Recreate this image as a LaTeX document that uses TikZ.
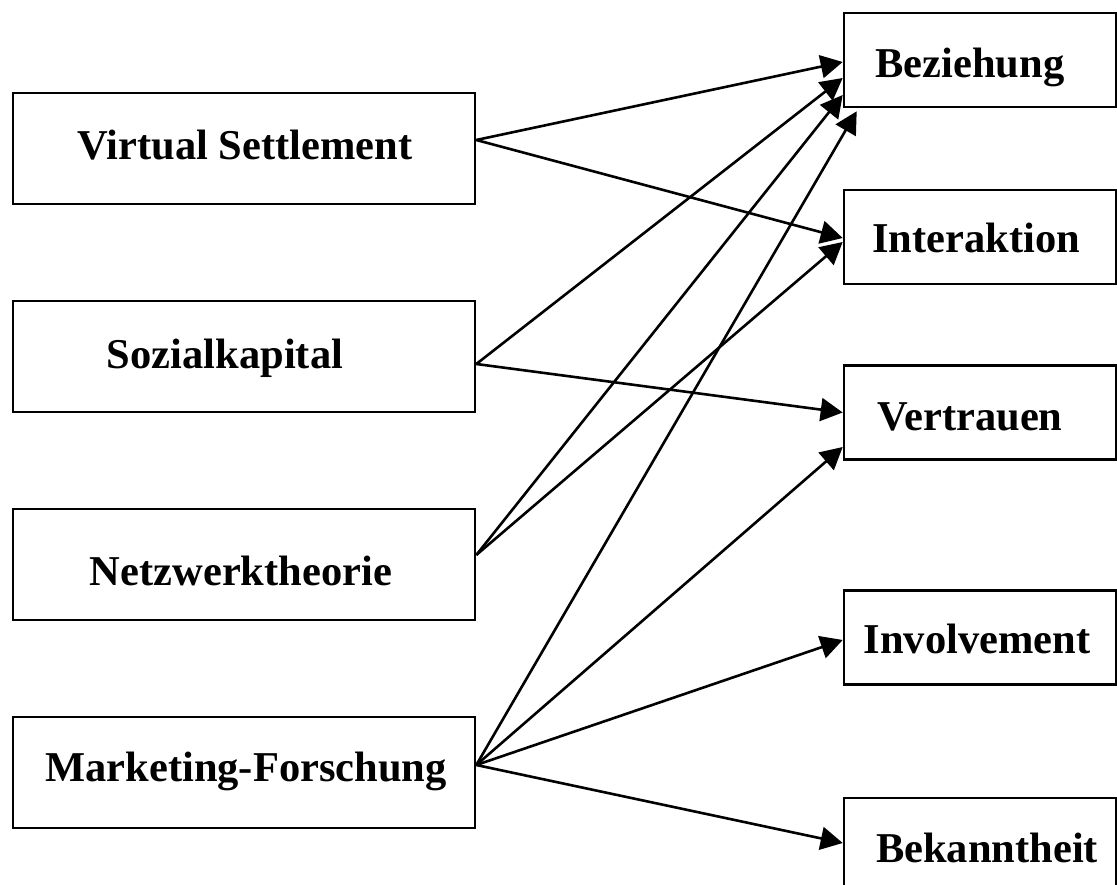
\documentclass[tikz,border=0pt]{standalone}
\usepackage{fontspec}
\setmainfont{Liberation Serif}
\usetikzlibrary{arrows.meta}
\begin{document}
\begin{tikzpicture}[x=1pt,y=-1pt,
  lbox/.style={draw,line width=2.6pt,minimum width=462pt,minimum height=111pt,inner sep=0pt},
  rbox/.style={draw,line width=2.6pt,minimum width=272pt,minimum height=94pt,inner sep=0pt},
  lbl/.style={anchor=base,font=\bfseries\fontsize{42.5}{50}\selectfont,inner sep=0pt},
  link/.style={line width=2.6pt,-{Triangle[length=22pt 0 0,width=23pt 0 0]}}]
\useasboundingbox (0,0) rectangle (1117,885);
\clip (0,0) rectangle (1117,885);

% source boxes
\node[lbox] (vs)  at (244,148.5) {};
\node[lbox] (soz) at (244,356.5) {};
\node[lbox] (net) at (244,564.5) {};
\node[lbox] (mar) at (244,772.5) {};
\node[lbl] (vsl)  at (245,160) {Virtual Settlement};
\node[lbl] (sozl) at (225,369) {Sozialkapital};
\node[lbl] (netl) at (241,585) {Netzwerktheorie};
\node[lbl] (marl) at (246,781) {Marketing-Forschung};

% target boxes
\node[rbox] (bez) at (980,60) {};
\node[rbox] (int) at (980,237) {};
\node[rbox] (ver) at (980,412.5) {};
\node[rbox] (inv) at (980,637.5) {};
\node[rbox] (bek) at (980,845) {};
\node[lbl] (bezl) at (970,78) {Beziehung};
\node[lbl] (intl) at (976,253) {Interaktion};
\node[lbl] (verl) at (970,430) {Vertrauen};
\node[lbl] (invl) at (977,653) {Involvement};
\node[lbl] (bekl) at (987,862) {Bekanntheit};

% connections
\draw[link] ([yshift=8.5pt]vs.east) -- ([yshift=-2pt]bez.west);
\draw[link] ([yshift=8.5pt]vs.east) -- ([yshift=-1pt]int.west);
\draw[link] ([yshift=-7.5pt]soz.east) -- ([yshift=-18pt]bez.west);
\draw[link] ([yshift=-7.5pt]soz.east) -- ([yshift=0pt]ver.west);
\draw[link] ([yshift=9.5pt]net.east) -- ([yshift=-35pt]bez.west);
\draw[link] ([yshift=9.5pt]net.east) -- ([yshift=-5pt]int.west);
\draw[link] ([yshift=7.5pt]mar.east) -- ([xshift=14pt,yshift=-3pt]bez.south west);
\draw[link] ([yshift=7.5pt]mar.east) -- ([yshift=-34.5pt]ver.west);
\draw[link] ([yshift=7.5pt]mar.east) -- ([yshift=-2.5pt]inv.west);
\draw[link] ([yshift=7.5pt]mar.east) -- ([yshift=2pt]bek.west);
\end{tikzpicture}
\end{document}
